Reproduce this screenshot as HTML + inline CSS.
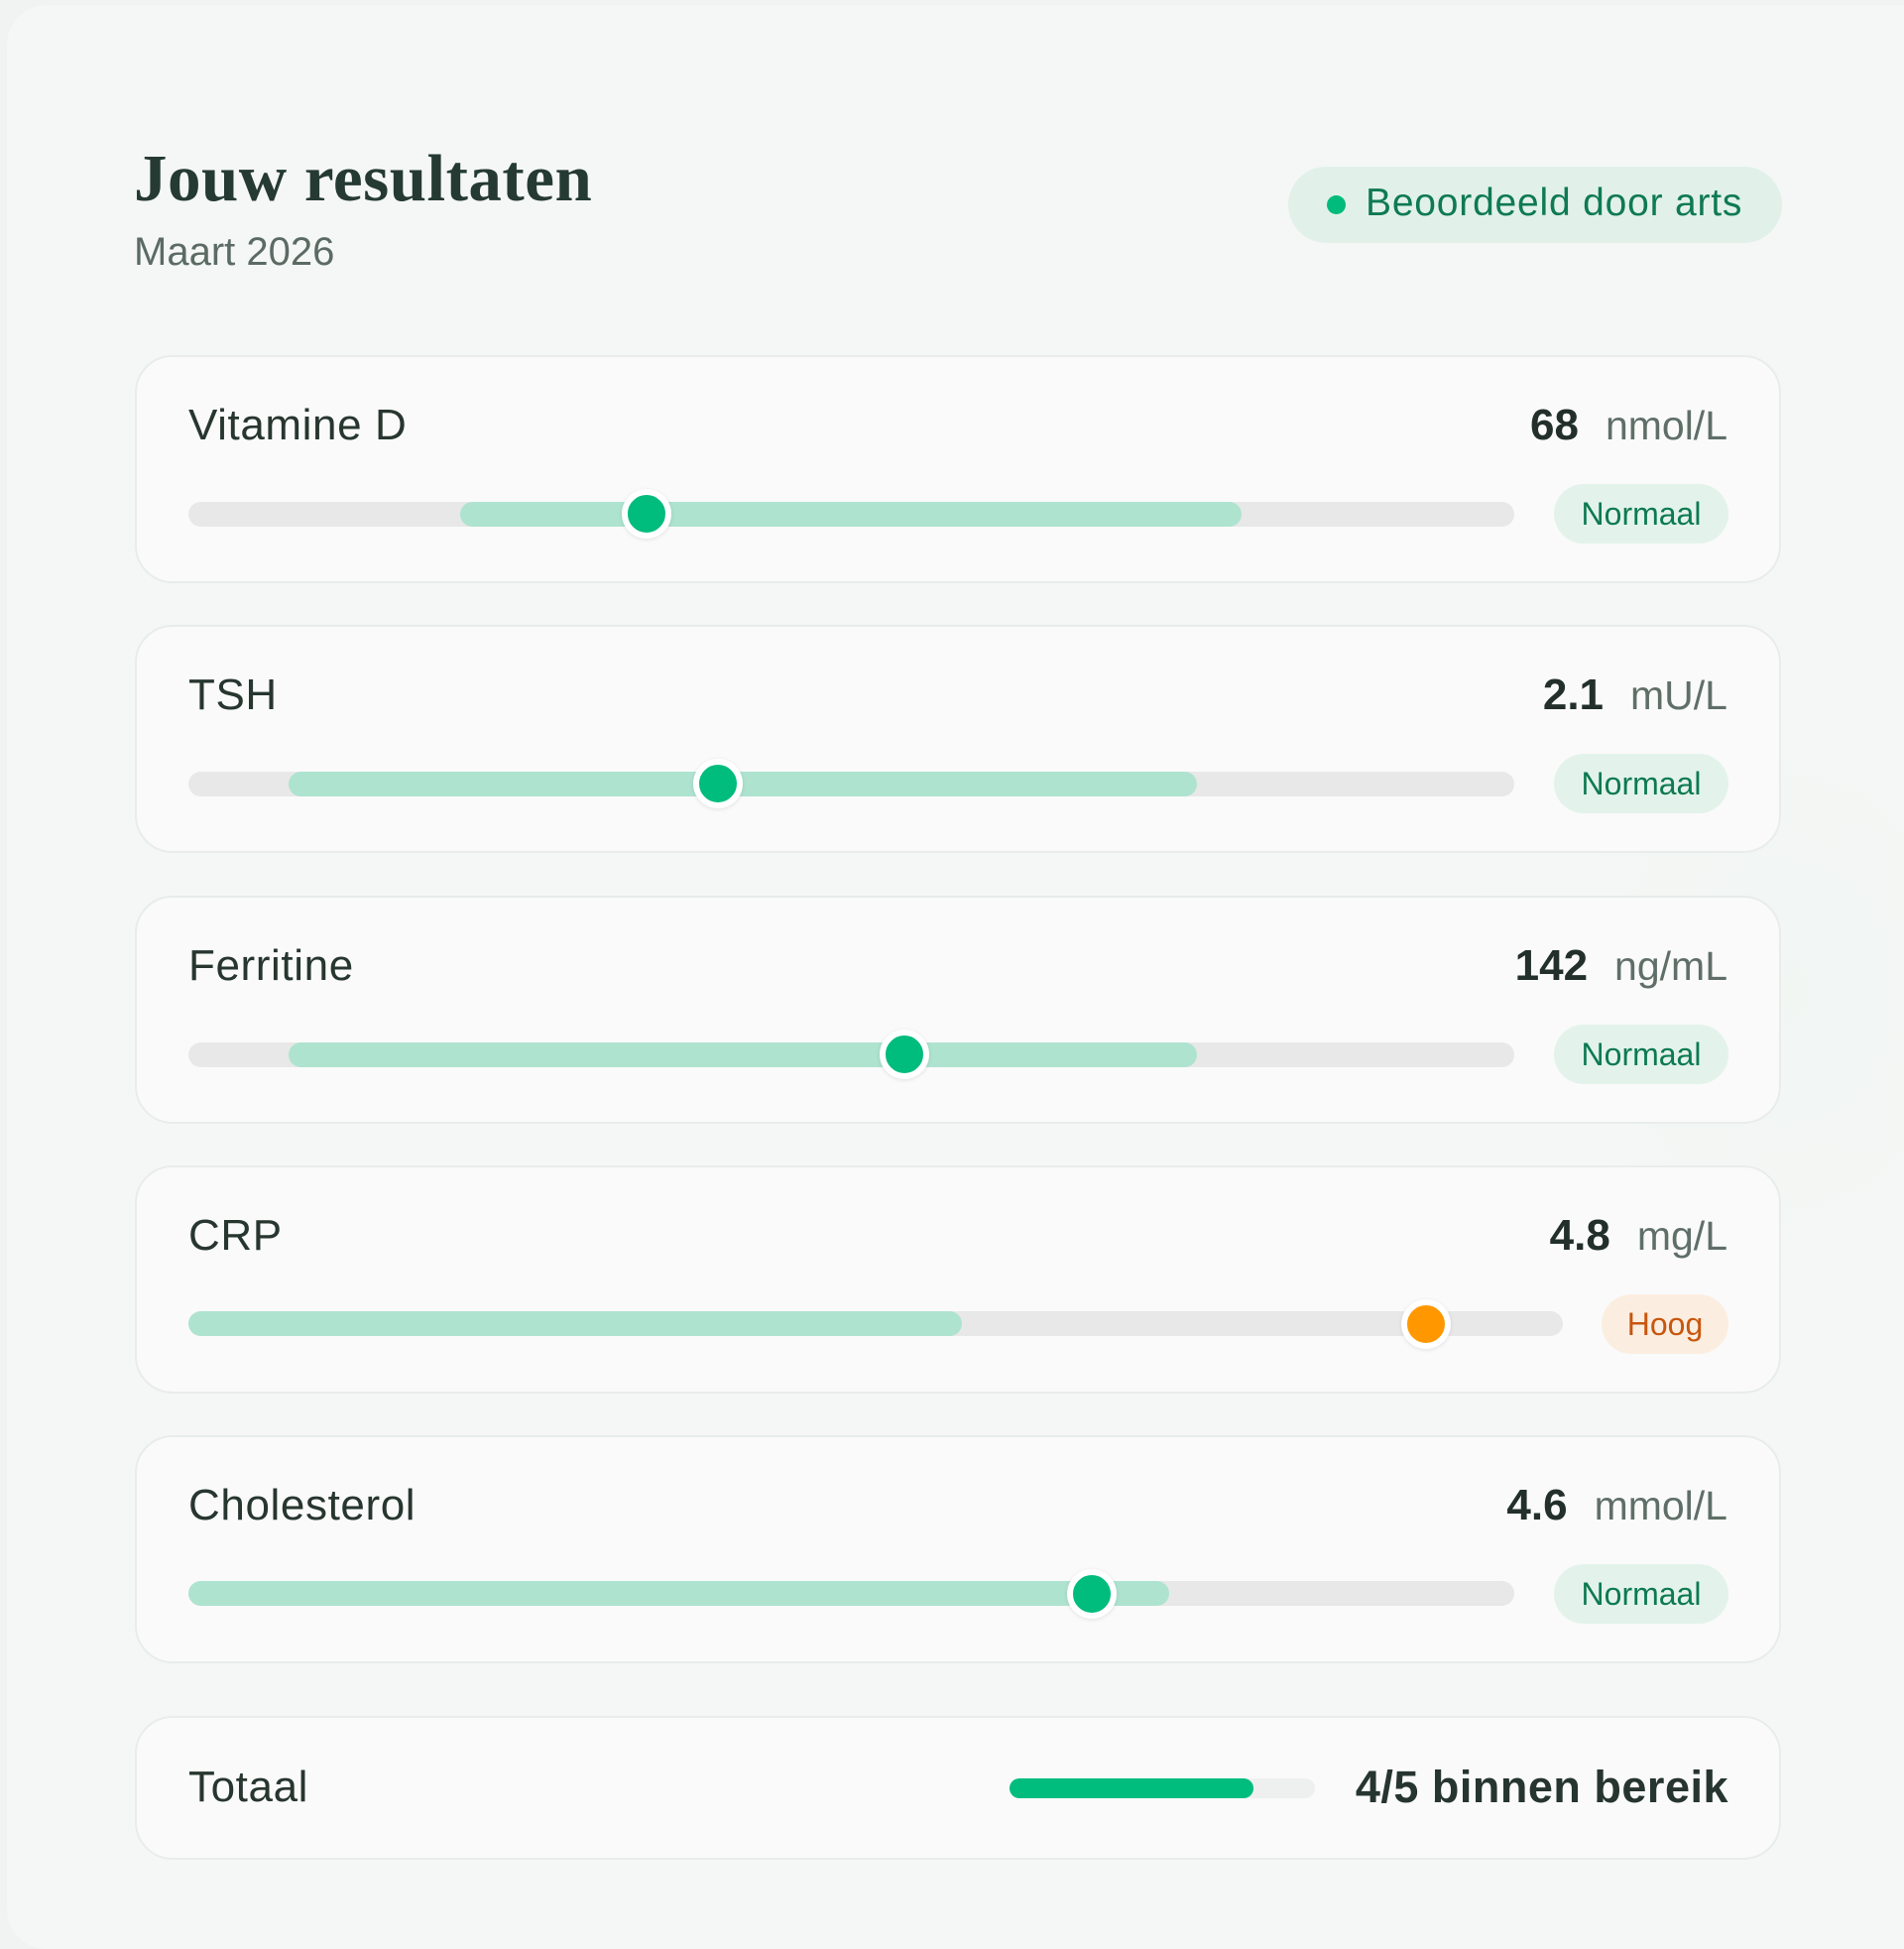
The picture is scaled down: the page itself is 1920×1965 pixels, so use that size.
<!DOCTYPE html>
<html>
<head>
<meta charset="utf-8">
<style>
  html, body { margin:0; padding:0; }
  body { width:1920px; height:1920px; background:#f1f3f2; position:relative; overflow:hidden; font-family:"Liberation Sans", sans-serif; }
  .frame { position:absolute; left:7px; top:5px; width:1960px; height:1960px; border-radius:40px; background:#f5f7f6; }
  .glow { position:absolute; left:0; top:0; width:1920px; height:1920px;
          background: radial-gradient(ellipse 500px 650px at 1800px 1000px, rgba(240,246,242,0.7), rgba(245,247,246,0) 70%); }
  .abs { position:absolute; white-space:nowrap; }
  .title { font-family:"Liberation Serif", serif; font-weight:bold; font-size:67px; line-height:66px; color:#253a32; left:135px; top:147px; letter-spacing:0.5px; }
  .sub { font-size:40px; line-height:40px; color:#5b6b64; left:135px; top:234px; }
  .pill { left:1299px; top:168px; width:498px; height:77px; border-radius:39px; background:#e1f1e9; }
  .pilldot { left:1338px; top:197px; width:19px; height:19px; border-radius:50%; background:#00bb7c; }
  .pilltext { left:1377px; top:185px; font-size:39px; line-height:39px; letter-spacing:0.8px; color:#0f7a52; }
  .card { position:absolute; left:136px; width:1660px; height:230px; box-sizing:border-box; border:2px solid #e8ecea; border-radius:38px; background:#fafafa; }
  .label { font-size:44px; line-height:43px; color:#27362f; left:190px; letter-spacing:0.6px; }
  .val { right:178px; font-size:44px; line-height:50px; color:#222f2a; }
  .val b { font-weight:bold; }
  .val span { font-size:41px; color:#5f6f68; margin-left:27px; }
  .track { position:absolute; left:190px; height:25px; border-radius:12.5px; background:#e8e8e8; }
  .hl { position:absolute; height:25px; border-radius:12.5px; background:#aee3d0; }
  .dot { position:absolute; width:38px; height:38px; border-radius:50%; border:6px solid #ffffff; box-shadow:0 1px 4px rgba(0,0,0,0.10); }
  .g { background:#00bc7d; }
  .o { background:#ff9800; }
  .badge { position:absolute; height:60px; border-radius:30px; font-size:32px; line-height:60px; text-align:center; }
  .bn { background:#e3f3ec; color:#0d7a50; width:176px; left:1567px; }
  .bh { background:#fbeee0; color:#c8560e; width:128px; left:1615px; }
</style>
</head>
<body>
<div class="frame"></div>
<div class="glow"></div>

<div class="abs title">Jouw resultaten</div>
<div class="abs sub">Maart 2026</div>

<div class="abs pill"></div>
<div class="abs pilldot"></div>
<div class="abs pilltext">Beoordeeld door arts</div>

<!-- Card 1: Vitamine D -->
<div class="card" style="top:358px;"></div>
<div class="abs label" style="top:407px;">Vitamine D</div>
<div class="abs val" style="top:404px;"><b>68</b><span>nmol/L</span></div>
<div class="track" style="top:506px; width:1337px;"></div>
<div class="hl" style="top:506px; left:464px; width:788px;"></div>
<div class="dot g" style="left:627px; top:493px;"></div>
<div class="badge bn" style="top:488px;">Normaal</div>

<!-- Card 2: TSH -->
<div class="card" style="top:630px;"></div>
<div class="abs label" style="top:679px;">TSH</div>
<div class="abs val" style="top:676px;"><b>2.1</b><span>mU/L</span></div>
<div class="track" style="top:778px; width:1337px;"></div>
<div class="hl" style="top:778px; left:291px; width:916px;"></div>
<div class="dot g" style="left:699px; top:765px;"></div>
<div class="badge bn" style="top:760px;">Normaal</div>

<!-- Card 3: Ferritine -->
<div class="card" style="top:903px;"></div>
<div class="abs label" style="top:952px;">Ferritine</div>
<div class="abs val" style="top:949px;"><b>142</b><span>ng/mL</span></div>
<div class="track" style="top:1051px; width:1337px;"></div>
<div class="hl" style="top:1051px; left:291px; width:916px;"></div>
<div class="dot g" style="left:887px; top:1038px;"></div>
<div class="badge bn" style="top:1033px;">Normaal</div>

<!-- Card 4: CRP -->
<div class="card" style="top:1175px;"></div>
<div class="abs label" style="top:1224px;">CRP</div>
<div class="abs val" style="top:1221px;"><b>4.8</b><span>mg/L</span></div>
<div class="track" style="top:1322px; width:1386px;"></div>
<div class="hl" style="top:1322px; left:190px; width:780px;"></div>
<div class="dot o" style="left:1413px; top:1310px;"></div>
<div class="badge bh" style="top:1305px;">Hoog</div>

<!-- Card 5: Cholesterol -->
<div class="card" style="top:1447px;"></div>
<div class="abs label" style="top:1496px;">Cholesterol</div>
<div class="abs val" style="top:1493px;"><b>4.6</b><span>mmol/L</span></div>
<div class="track" style="top:1594px; width:1337px;"></div>
<div class="hl" style="top:1594px; left:190px; width:989px;"></div>
<div class="dot g" style="left:1076px; top:1582px;"></div>
<div class="badge bn" style="top:1577px;">Normaal</div>

<!-- Total -->
<div class="card" style="top:1730px; height:145px;"></div>
<div class="abs label" style="top:1780px;">Totaal</div>
<div class="abs" style="left:1018px; top:1793px; width:308px; height:20px; border-radius:10px; background:#eef0ef;"></div>
<div class="abs" style="left:1018px; top:1793px; width:246px; height:20px; border-radius:10px; background:#00bd7e;"></div>
<div class="abs" style="right:177px; top:1779px; font-size:45px; line-height:45px; font-weight:bold; letter-spacing:0.5px; color:#26352f;">4/5 binnen bereik</div>

</body>
</html>
